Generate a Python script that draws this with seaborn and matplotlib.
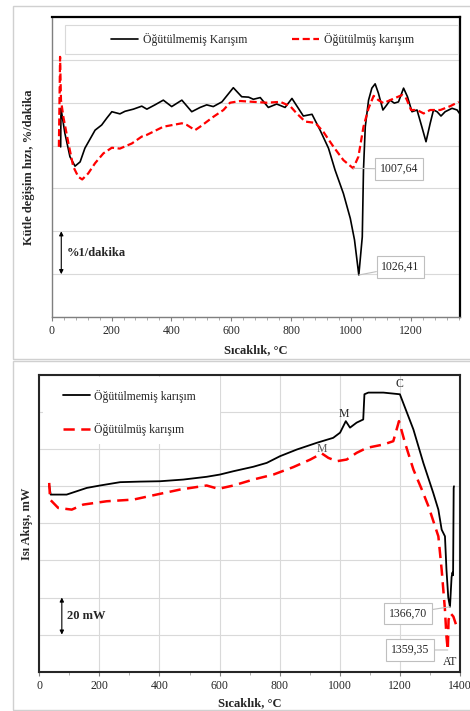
import numpy as np
import pandas as pd
import matplotlib
matplotlib.use("Agg")
import matplotlib.pyplot as plt
import seaborn as sns
from matplotlib.ticker import MultipleLocator
from matplotlib.patches import Rectangle

# ---------------- data: top panel (DTG) ----------------
dtg_temp_unground = [30, 31, 44, 61, 78, 95, 111, 145, 167, 184, 201, 228, 245, 273, 301, 318, 345,
                     373, 401, 435, 468, 496, 518, 540, 569, 607, 635, 658, 674, 697, 724, 752, 780,
                     803, 841, 870, 897, 925, 947, 975, 998, 1012, 1026.41, 1038, 1042, 1048, 1059,
                     1070, 1081, 1092, 1107, 1120, 1131, 1145, 1159, 1176, 1189, 1204, 1221, 1237,
                     1251, 1265, 1276, 1288, 1301, 1315, 1338, 1355, 1363]
dtg_rate_unground = [3.97, 4.87, 4.29, 3.74, 3.52, 3.62, 3.94, 4.36, 4.48, 4.64, 4.79, 4.74, 4.80,
                     4.85, 4.92, 4.85, 4.95, 5.06, 4.91, 5.06, 4.79, 4.89, 4.95, 4.91, 5.02, 5.35,
                     5.14, 5.13, 5.08, 5.12, 4.89, 4.97, 4.89, 5.10, 4.69, 4.73, 4.36, 3.94, 3.43,
                     2.88, 2.30, 1.80, 0.98, 1.87, 3.43, 4.44, 5.06, 5.34, 5.44, 5.22, 4.83, 4.95,
                     5.06, 4.99, 5.02, 5.34, 5.14, 4.79, 4.83, 4.44, 4.09, 4.52, 4.83, 4.79, 4.69,
                     4.79, 4.87, 4.83, 4.75]
dtg_temp_ground = [24, 28, 31, 39, 56, 72, 89, 102, 122, 145, 173, 201, 228, 268, 301, 318, 373,
                   435, 452, 479, 496, 540, 574, 596, 630, 674, 719, 764, 797, 819, 847, 881, 908,
                   942, 975, 1007.64, 1025, 1042, 1059, 1076, 1092, 1109, 1131, 1171, 1185, 1201,
                   1221, 1243, 1265, 1299, 1332, 1360]
dtg_rate_ground = [3.97, 6.07, 5.06, 4.67, 4.05, 3.51, 3.27, 3.21, 3.35, 3.59, 3.82, 3.95, 3.93,
                   4.05, 4.21, 4.25, 4.44, 4.52, 4.48, 4.36, 4.44, 4.67, 4.83, 5.00, 5.04, 5.02,
                   5.00, 5.02, 4.92, 4.75, 4.56, 4.53, 4.32, 3.97, 3.66, 3.47, 3.74, 4.44, 4.87,
                   5.16, 5.06, 4.99, 5.06, 5.18, 5.10, 4.83, 4.83, 4.75, 4.83, 4.83, 4.92, 5.02]
dtg_labels = ["Öğütülmemiş Karışım", "Öğütülmüş karışım"]
dtg_peaks = [1007.64, 1026.41]
dtg_peak_text = ["1007,64", "1026,41"]

# ---------------- data: bottom panel (DSC) ----------------
dsc_temp_unground = [33, 38, 91, 158, 202, 269, 335, 402, 479, 557, 601, 646, 712, 757, 801, 857,
                     923, 978, 1001, 1020, 1034, 1056, 1078, 1082, 1095, 1145, 1200, 1245, 1278,
                     1311, 1328, 1339, 1350, 1355, 1361, 1366.7, 1372, 1375, 1377, 1378, 1379, 1380]
dsc_flow_unground = [100.4, 95.5, 95.5, 99.1, 100.4, 102.2, 102.5, 102.7, 103.6, 105.1, 106.3,
                     108.1, 110.5, 112.6, 116.2, 119.8, 123.4, 126.1, 128.9, 135.1, 131.6, 134.3,
                     136.0, 149.6, 150.5, 150.5, 149.6, 130.6, 112.6, 96.4, 87.4, 76.6, 73.0, 55.0,
                     40.0, 35.0, 51.0, 53.5, 52.0, 75.0, 99.0, 100.0]
dsc_temp_ground = [33, 36, 63, 108, 146, 224, 313, 390, 468, 557, 596, 646, 712, 779, 845, 902, 940,
                   962, 990, 1023, 1056, 1090, 1145, 1178, 1197, 1217, 1245, 1273, 1295, 1317, 1328,
                   1339, 1350, 1355, 1359.35, 1362, 1368, 1378, 1389, 1396]
dsc_flow_ground = [101.8, 92.8, 88.3, 87.4, 90.1, 91.9, 92.8, 95.5, 98.2, 100.4, 98.6, 100.4, 103.6,
                   106.3, 110.3, 114.4, 117.7, 115.3, 113.5, 114.4, 118.0, 120.7, 122.5, 124.3,
                   135.1, 123.4, 109.0, 98.2, 89.2, 78.4, 73.0, 55.0, 33.3, 18.9, 11.7, 28.0, 31.6,
                   29.7, 24.3, 22.5]
dsc_labels = ["Öğütülmemiş karışım", "Öğütülmüş karışım"]
dsc_peaks = [1366.70, 1359.35]
dsc_peak_text = ["1366,70", "1359,35"]

# ---------------- styling ----------------
sns.set_theme(style="white")
plt.rcParams['font.family'] = ['Liberation Serif', 'DejaVu Serif']
FS = 8.5
GRID = '#d9d9d9'
TXT = '#262626'

fig = plt.figure(figsize=(4.7, 7.11), dpi=100)

# outer chart-area frames
fig.patches.append(Rectangle((0.0287, 0.4951), 1.0, 0.4965, transform=fig.transFigure,
                             fill=False, ec='#d0d0d0', lw=1.0))
fig.patches.append(Rectangle((0.0287, 0.0014), 1.0, 0.4909, transform=fig.transFigure,
                             fill=False, ec='#d0d0d0', lw=1.0))

ax1 = fig.add_axes([0.110, 0.5541, 0.8677, 0.422])
ax2 = fig.add_axes([0.0836, 0.0553, 0.8951, 0.4173])

# ---------------- top panel ----------------
sns.lineplot(x=dtg_temp_unground, y=dtg_rate_unground, ax=ax1, color='black', lw=1.2,
             estimator=None, sort=False, label=dtg_labels[0], legend=False)
sns.lineplot(x=dtg_temp_ground, y=dtg_rate_ground, ax=ax1, color='#ff0000', lw=1.6,
             linestyle=(0, (3.2, 1.6)), estimator=None, sort=False, label=dtg_labels[1],
             legend=False)
ax1.set_xlim(0, 1363)
ax1.set_ylim(0, 7)
ax1.yaxis.set_major_locator(MultipleLocator(1))
ax1.xaxis.set_major_locator(MultipleLocator(200))
ax1.xaxis.set_minor_locator(MultipleLocator(40))
ax1.grid(axis='y', color=GRID, lw=0.8)
ax1.grid(axis='x', visible=False)
ax1.set_yticklabels([])
ax1.tick_params(axis='y', length=0)
ax1.tick_params(axis='x', which='major', direction='out', length=3, width=0.8, color='#808080',
                labelsize=FS, labelcolor=TXT, pad=3, bottom=True)
ax1.tick_params(axis='x', which='minor', direction='out', length=2, width=0.6, color='#a0a0a0',
                bottom=True)
for s in ['top', 'right']:
    ax1.spines[s].set_color('black'); ax1.spines[s].set_linewidth(1.6)
for s in ['left', 'bottom']:
    ax1.spines[s].set_color('#7f7f7f'); ax1.spines[s].set_linewidth(1.0)
ax1.set_xlabel('Sıcaklık, °C', fontsize=FS + 0.5, fontweight='bold', color=TXT)
ax1.set_ylabel('Kütle değişim hızı, %/dakika', fontsize=FS + 0.5, fontweight='bold', color=TXT)
ax1.xaxis.set_label_coords(0.5, -0.092)
ax1.yaxis.set_label_coords(-0.040, 0.5)

# legend frame + legend
ax1.add_patch(Rectangle((0.0326, 0.877), 0.964, 0.096, transform=ax1.transAxes,
                        fc='white', ec='#d9d9d9', lw=0.8, zorder=3))
h = ax1.get_lines()[:2]
leg1 = ax1.legend(h, dtg_labels, ncol=2, loc='center', bbox_to_anchor=(0.5165, 0.925),
                  frameon=False, fontsize=FS, handlelength=2.3, handletextpad=0.4,
                  columnspacing=3.8, borderpad=0)
leg1.set_zorder(4)

box = dict(boxstyle='square,pad=0.4', fc='white', ec='#bfbfbf', lw=0.8)
arr = dict(arrowstyle='-', color='#bfbfbf', lw=0.8, shrinkA=0, shrinkB=0)
ax1.annotate(dtg_peak_text[0], xy=(dtg_peaks[0], 3.47), xytext=(1161, 3.45),
             textcoords='data', ha='center', va='center', fontsize=FS, color=TXT,
             bbox=box, arrowprops=arr, zorder=5)
ax1.annotate(dtg_peak_text[1], xy=(dtg_peaks[1], 0.98), xytext=(1166, 1.17),
             textcoords='data', ha='center', va='center', fontsize=FS, color=TXT,
             bbox=box, arrowprops=arr, zorder=5)

# scale bar
ax1.annotate('', xy=(32, 2), xytext=(32, 1),
             arrowprops=dict(arrowstyle='<|-|>', color='black', lw=0.8, mutation_scale=6,
                             shrinkA=0, shrinkB=0))
ax1.text(50, 1.5, '%1/dakika', fontsize=FS + 0.5, fontweight='bold', va='center', ha='left',
         color=TXT)

# ---------------- bottom panel ----------------
sns.lineplot(x=dsc_temp_unground, y=dsc_flow_unground, ax=ax2, color='black', lw=1.3,
             estimator=None, sort=False, label=dsc_labels[0], legend=False)
sns.lineplot(x=dsc_temp_ground, y=dsc_flow_ground, ax=ax2, color='#ff0000', lw=1.8,
             linestyle=(0, (4.5, 2.6)), estimator=None, sort=False, label=dsc_labels[1],
             legend=False)
ax2.set_xlim(0, 1400)
ax2.set_ylim(0, 160)
ax2.yaxis.set_major_locator(MultipleLocator(20))
ax2.xaxis.set_major_locator(MultipleLocator(200))
ax2.xaxis.set_minor_locator(MultipleLocator(100))
ax2.grid(axis='both', which='major', color=GRID, lw=0.8)
ax2.set_yticklabels([])
ax2.tick_params(axis='y', length=0)
ax2.tick_params(axis='x', which='major', direction='out', length=3, width=0.8, color='#808080',
                labelsize=FS, labelcolor=TXT, pad=3, bottom=True)
ax2.tick_params(axis='x', which='minor', direction='out', length=2, width=0.6, color='#a0a0a0',
                bottom=True)
for s in ax2.spines.values():
    s.set_color('#262626'); s.set_linewidth(1.5)
ax2.set_xlabel('Sıcaklık, °C', fontsize=FS + 0.5, fontweight='bold', color=TXT)
ax2.set_ylabel('Isı Akışı, mW', fontsize=FS + 0.5, fontweight='bold', color=TXT)
ax2.xaxis.set_label_coords(0.5, -0.085)
ax2.yaxis.set_label_coords(-0.015, 0.5)

# white legend background (no border) hiding gridlines
ax2.add_patch(Rectangle((0.009, 0.768), 0.420, 0.225, transform=ax2.transAxes,
                        fc='white', ec='none', zorder=1))
h2 = ax2.get_lines()[:2]
leg2 = ax2.legend(h2, dsc_labels, loc='upper left', bbox_to_anchor=(0.057, 0.951),
                  frameon=False, fontsize=FS, handlelength=2.3, handletextpad=0.3,
                  labelspacing=1.75, borderpad=0, borderaxespad=0)

ax2.text(1012, 139, 'M', fontsize=FS, ha='center', va='center', color=TXT)
ax2.text(940, 120, 'M', fontsize=FS, ha='center', va='center', color='#595959')
ax2.text(1200, 155, 'C', fontsize=FS, ha='center', va='center', color=TXT)
ax2.text(1367, 5, 'AT', fontsize=FS, ha='center', va='center', color=TXT)

ax2.annotate(dsc_peak_text[0], xy=(dsc_peaks[0], 35), xytext=(1227, 31.5),
             textcoords='data', ha='center', va='center', fontsize=FS, color=TXT,
             bbox=box, arrowprops=arr, zorder=5)
ax2.annotate(dsc_peak_text[1], xy=(dsc_peaks[1], 11.7), xytext=(1235, 11.7),
             textcoords='data', ha='center', va='center', fontsize=FS, color=TXT,
             bbox=box, arrowprops=arr, zorder=5)

ax2.annotate('', xy=(75, 40), xytext=(75, 20),
             arrowprops=dict(arrowstyle='<|-|>', color='black', lw=0.8, mutation_scale=6,
                             shrinkA=0, shrinkB=0))
ax2.text(91, 30, '20 mW', fontsize=FS + 0.5, fontweight='bold', va='center', ha='left',
         color=TXT)

fig.savefig('out.png', dpi=100)
